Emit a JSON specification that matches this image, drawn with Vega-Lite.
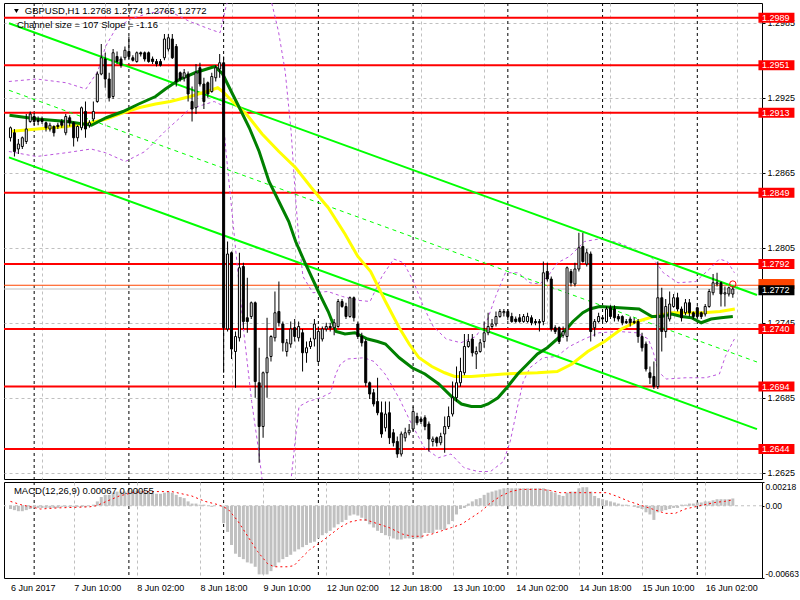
{
"$schema":"https://vega.github.io/schema/vega-lite/v6.json",
"background":"white",
"padding":{"left":2,"top":2,"right":0,"bottom":0},
"spacing":1,
"config":{"font":"Liberation Sans","view":{"stroke":"black","strokeWidth":1},"axis":{"labelFont":"Liberation Sans","labelFontSize":9,"labelColor":"black","domainColor":"black","tickColor":"black"},"text":{"font":"Liberation Sans"}},
"datasets":{
"days":[{"d":6},{"d":30},{"d":54},{"d":78},{"d":102},{"d":126},{"d":150},{"d":174}],
"levels":[{"lv":1.2989},{"lv":1.2951},{"lv":1.2913},{"lv":1.2849},{"lv":1.2792},{"lv":1.2740},{"lv":1.2694},{"lv":1.2644}],
"chan":[{"k":"upper","i":-0.375,"p":1.29846},{"k":"upper","i":189.125,"p":1.27672},{"k":"lower","i":-0.375,"p":1.28773},{"k":"lower","i":189.125,"p":1.26599}],
"mid":[{"i":-0.375,"p":1.2931},{"i":189.125,"p":1.27136}],
"bb":[
{"b":"u","i":-0.4,"p":1.2938},{"b":"u","i":6.6,"p":1.2940},{"b":"u","i":14.1,"p":1.2937},{"b":"u","i":19.1,"p":1.2932},{"b":"u","i":22.1,"p":1.2946},{"b":"u","i":24.1,"p":1.2966},{"b":"u","i":26.6,"p":1.2980},{"b":"u","i":30.4,"p":1.2988},{"b":"u","i":35.4,"p":1.2993},{"b":"u","i":40.4,"p":1.2994},{"b":"u","i":45.4,"p":1.2986},{"b":"u","i":50.4,"p":1.2980},{"b":"u","i":53.1,"p":1.2977},{"b":"u","i":54.6,"p":1.2998},{"b":"u","i":56.6,"p":1.3018},{"b":"u","i":64.6,"p":1.3018},{"b":"u","i":66.1,"p":1.3002},{"b":"u","i":67.9,"p":1.2978},{"b":"u","i":69.6,"p":1.2946},{"b":"u","i":71.1,"p":1.2898},{"b":"u","i":72.1,"p":1.2850},{"b":"u","i":73.1,"p":1.2810},{"b":"u","i":74.1,"p":1.2782},{"b":"u","i":76.6,"p":1.2769},{"b":"u","i":80.4,"p":1.2770},{"b":"u","i":84.1,"p":1.2766},{"b":"u","i":87.9,"p":1.2763},{"b":"u","i":91.1,"p":1.2762},{"b":"u","i":94.1,"p":1.2782},{"b":"u","i":97.1,"p":1.2796},{"b":"u","i":99.6,"p":1.2793},{"b":"u","i":102.1,"p":1.2778},{"b":"u","i":104.6,"p":1.2758},{"b":"u","i":107.1,"p":1.2742},{"b":"u","i":110.4,"p":1.2732},{"b":"u","i":114.1,"p":1.2729},{"b":"u","i":117.9,"p":1.2734},{"b":"u","i":120.9,"p":1.2748},{"b":"u","i":122.9,"p":1.2766},{"b":"u","i":125.4,"p":1.2785},{"b":"u","i":128.6,"p":1.2785},{"b":"u","i":131.6,"p":1.2777},{"b":"u","i":134.1,"p":1.2776},{"b":"u","i":136.1,"p":1.2782},{"b":"u","i":138.6,"p":1.2793},{"b":"u","i":141.6,"p":1.2798},{"b":"u","i":145.4,"p":1.2810},{"b":"u","i":149.1,"p":1.2812},{"b":"u","i":154.1,"p":1.2809},{"b":"u","i":159.1,"p":1.2802},{"b":"u","i":162.1,"p":1.2798},{"b":"u","i":163.6,"p":1.2793},{"b":"u","i":165.4,"p":1.2785},{"b":"u","i":169.1,"p":1.2777},{"b":"u","i":173.6,"p":1.2778},{"b":"u","i":177.1,"p":1.2788},{"b":"u","i":179.6,"p":1.2796},{"b":"u","i":181.6,"p":1.2794},{"b":"u","i":183.4,"p":1.2785},
{"b":"d","i":-0.4,"p":1.2882},{"b":"d","i":6.6,"p":1.2878},{"b":"d","i":14.1,"p":1.2881},{"b":"d","i":20.4,"p":1.2884},{"b":"d","i":24.1,"p":1.2881},{"b":"d","i":29.1,"p":1.2874},{"b":"d","i":34.1,"p":1.2882},{"b":"d","i":39.1,"p":1.2898},{"b":"d","i":45.4,"p":1.2916},{"b":"d","i":51.6,"p":1.2922},{"b":"d","i":53.6,"p":1.2919},{"b":"d","i":54.6,"p":1.2882},{"b":"d","i":56.6,"p":1.2818},{"b":"d","i":59.1,"p":1.2738},{"b":"d","i":61.1,"p":1.2682},{"b":"d","i":62.9,"p":1.2642},{"b":"d","i":64.1,"p":1.2610},{"b":"d","i":70.1,"p":1.2610},{"b":"d","i":71.1,"p":1.2620},{"b":"d","i":72.1,"p":1.2650},{"b":"d","i":73.1,"p":1.2678},{"b":"d","i":75.4,"p":1.2682},{"b":"d","i":78.6,"p":1.2685},{"b":"d","i":81.1,"p":1.2689},{"b":"d","i":82.4,"p":1.2704},{"b":"d","i":83.6,"p":1.2712},{"b":"d","i":85.4,"p":1.2716},{"b":"d","i":89.6,"p":1.2717},{"b":"d","i":92.1,"p":1.2714},{"b":"d","i":94.9,"p":1.2704},{"b":"d","i":98.4,"p":1.2685},{"b":"d","i":101.6,"p":1.2664},{"b":"d","i":104.9,"p":1.2645},{"b":"d","i":108.4,"p":1.2637},{"b":"d","i":111.6,"p":1.2640},{"b":"d","i":114.9,"p":1.2629},{"b":"d","i":118.4,"p":1.2626},{"b":"d","i":121.6,"p":1.2626},{"b":"d","i":124.9,"p":1.2634},{"b":"d","i":126.6,"p":1.2650},{"b":"d","i":128.4,"p":1.2677},{"b":"d","i":129.9,"p":1.2698},{"b":"d","i":131.6,"p":1.2709},{"b":"d","i":134.9,"p":1.2717},{"b":"d","i":138.4,"p":1.2718},{"b":"d","i":141.6,"p":1.2726},{"b":"d","i":145.4,"p":1.2732},{"b":"d","i":149.1,"p":1.2737},{"b":"d","i":154.1,"p":1.2738},{"b":"d","i":158.6,"p":1.2737},{"b":"d","i":161.6,"p":1.2732},{"b":"d","i":162.9,"p":1.2721},{"b":"d","i":164.1,"p":1.2706},{"b":"d","i":166.1,"p":1.2700},{"b":"d","i":171.1,"p":1.2701},{"b":"d","i":176.1,"p":1.2701},{"b":"d","i":179.6,"p":1.2704},{"b":"d","i":181.1,"p":1.2718},{"b":"d","i":183.4,"p":1.2732}
],
"fast":[{"i":-0.25,"p":1.2911},{"i":6.75,"p":1.2908},{"i":14.25,"p":1.2906},{"i":20.5,"p":1.2903},{"i":24.25,"p":1.2909},{"i":28.5,"p":1.2914},{"i":32.5,"p":1.2920},{"i":36.75,"p":1.2926},{"i":39.25,"p":1.2932},{"i":43,"p":1.2940},{"i":46.75,"p":1.2945},{"i":51.75,"p":1.2950},{"i":53.75,"p":1.2944},{"i":56.25,"p":1.2928},{"i":58,"p":1.2917},{"i":60.5,"p":1.2901},{"i":63,"p":1.2882},{"i":65.5,"p":1.2858},{"i":68,"p":1.2842},{"i":70.5,"p":1.2826},{"i":72.25,"p":1.2810},{"i":74.75,"p":1.2792},{"i":78,"p":1.2770},{"i":80.5,"p":1.2754},{"i":82.5,"p":1.2738},{"i":84.75,"p":1.2736},{"i":87.25,"p":1.2737},{"i":90.5,"p":1.2732},{"i":93,"p":1.2730},{"i":95,"p":1.2728},{"i":98.5,"p":1.2717},{"i":101.75,"p":1.2709},{"i":105,"p":1.2704},{"i":108.5,"p":1.2696},{"i":111.75,"p":1.2686},{"i":114.25,"p":1.2680},{"i":116.75,"p":1.2678},{"i":119.25,"p":1.2678},{"i":121,"p":1.2680},{"i":123.5,"p":1.2685},{"i":126,"p":1.2694},{"i":128.5,"p":1.2704},{"i":131,"p":1.2712},{"i":133.5,"p":1.2720},{"i":136,"p":1.2725},{"i":139.25,"p":1.2734},{"i":142.5,"p":1.2746},{"i":145,"p":1.2753},{"i":146.75,"p":1.2756},{"i":149.25,"p":1.2758},{"i":154.25,"p":1.2757},{"i":159.25,"p":1.2756},{"i":162.5,"p":1.2750},{"i":165,"p":1.2750},{"i":167.5,"p":1.2752},{"i":170,"p":1.2750},{"i":172.5,"p":1.2749},{"i":175,"p":1.2745},{"i":177.5,"p":1.2748},{"i":180,"p":1.2749},{"i":183,"p":1.2750}],
"slow":[{"i":-0.25,"p":1.2898},{"i":6.75,"p":1.2900},{"i":14.25,"p":1.2902},{"i":20.5,"p":1.2905},{"i":24.25,"p":1.2908},{"i":28.5,"p":1.2913},{"i":32.5,"p":1.2917},{"i":36.75,"p":1.2920},{"i":40.5,"p":1.2922},{"i":45.5,"p":1.2926},{"i":49.75,"p":1.2930},{"i":52.5,"p":1.2933},{"i":53.75,"p":1.2930},{"i":56.25,"p":1.2922},{"i":59.75,"p":1.2912},{"i":63.75,"p":1.2896},{"i":68,"p":1.2882},{"i":72.25,"p":1.2869},{"i":76.25,"p":1.2853},{"i":80.5,"p":1.2837},{"i":84.75,"p":1.2816},{"i":88,"p":1.2798},{"i":91.25,"p":1.2786},{"i":95,"p":1.2762},{"i":98.5,"p":1.2741},{"i":101,"p":1.2728},{"i":103.5,"p":1.2717},{"i":106.75,"p":1.2710},{"i":110,"p":1.2705},{"i":112.5,"p":1.2702},{"i":116.75,"p":1.2702},{"i":125,"p":1.2704},{"i":133.5,"p":1.2705},{"i":138.5,"p":1.2706},{"i":142.25,"p":1.2712},{"i":146.25,"p":1.2722},{"i":150.5,"p":1.2730},{"i":154.75,"p":1.2740},{"i":158.75,"p":1.2746},{"i":163,"p":1.2750},{"i":167.25,"p":1.2753},{"i":175.5,"p":1.2753},{"i":179.75,"p":1.2754},{"i":183.5,"p":1.2756}],
"sig":[{"i":0,"s":0.0004},{"i":2.6,"s":0.0001},{"i":7.6,"s":-0.0003},{"i":11.8,"s":-0.0002},{"i":20,"s":-0.0001},{"i":21.8,"s":0},{"i":24.3,"s":0.0004},{"i":27.6,"s":0.0009},{"i":30.9,"s":0.0012},{"i":34.3,"s":0.0013},{"i":40.9,"s":0.0013},{"i":43.4,"s":0.0011},{"i":45.9,"s":0.0009},{"i":49.3,"s":0.0004},{"i":52.6,"s":0.0001},{"i":55.1,"s":-0.0003},{"i":57.6,"s":-0.0014},{"i":60.1,"s":-0.0028},{"i":62.6,"s":-0.0042},{"i":65.1,"s":-0.0053},{"i":66.8,"s":-0.0056},{"i":70.1,"s":-0.0056},{"i":71.8,"s":-0.0055},{"i":73.4,"s":-0.0049},{"i":75.9,"s":-0.0040},{"i":78.4,"s":-0.0034},{"i":80.9,"s":-0.0027},{"i":83.4,"s":-0.0020},{"i":85.9,"s":-0.0015},{"i":88.4,"s":-0.0013},{"i":90.1,"s":-0.0013},{"i":92.6,"s":-0.0016},{"i":95.9,"s":-0.0020},{"i":99.3,"s":-0.0026},{"i":101.75,"s":-0.0028},{"i":104.25,"s":-0.0028},{"i":106.75,"s":-0.0026},{"i":109.25,"s":-0.0023},{"i":111.75,"s":-0.0020},{"i":114.25,"s":-0.0017},{"i":116.75,"s":-0.0011},{"i":119.25,"s":-0.0005},{"i":121.75,"s":0.0003},{"i":124.25,"s":0.0009},{"i":126.75,"s":0.0013},{"i":129.25,"s":0.0015},{"i":134.25,"s":0.0015},{"i":136.75,"s":0.0014},{"i":139.25,"s":0.0012},{"i":142.6,"s":0.0012},{"i":151,"s":0.0012},{"i":153.4,"s":0.0009},{"i":156.75,"s":0.0004},{"i":159.25,"s":0.0001},{"i":162.6,"s":-0.0003},{"i":165.9,"s":-0.0007},{"i":168.4,"s":-0.0007},{"i":170.9,"s":-0.0003},{"i":173.4,"s":-0.0001},{"i":175.9,"s":0.0001},{"i":178.4,"s":0.0003},{"i":180.9,"s":0.0004},{"i":183,"s":0.00055}],
"candles":[
{"i":0,"o":1.2893,"h":1.2902,"l":1.2890,"c":1.2901,"m":-0.0003},
{"i":1,"o":1.2897,"h":1.2900,"l":1.2878,"c":1.2882,"m":-0.0004},
{"i":2,"o":1.2884,"h":1.2892,"l":1.2880,"c":1.2888,"m":-0.0005},
{"i":3,"o":1.2886,"h":1.2894,"l":1.2884,"c":1.2893,"m":-0.0005},
{"i":4,"o":1.2890,"h":1.2912,"l":1.2888,"c":1.2900,"m":-0.0004},
{"i":5,"o":1.2906,"h":1.2914,"l":1.2905,"c":1.2912,"m":-0.0003},
{"i":6,"o":1.2910,"h":1.2913,"l":1.2903,"c":1.2906,"m":-0.0002},
{"i":7,"o":1.2907,"h":1.2910,"l":1.2903,"c":1.2906,"m":-0.0002},
{"i":8,"o":1.2908,"h":1.2910,"l":1.2904,"c":1.2906,"m":-0.0002},
{"i":9,"o":1.2905,"h":1.2906,"l":1.2898,"c":1.2901,"m":-0.0002},
{"i":10,"o":1.2900,"h":1.2905,"l":1.2898,"c":1.2903,"m":-0.0002},
{"i":11,"o":1.2902,"h":1.2903,"l":1.2894,"c":1.2897,"m":-0.0002},
{"i":12,"o":1.2903,"h":1.2905,"l":1.2900,"c":1.2902,"m":-0.0002},
{"i":13,"o":1.2906,"h":1.2908,"l":1.2901,"c":1.2903,"m":-0.0001},
{"i":14,"o":1.2897,"h":1.2912,"l":1.2895,"c":1.2910,"m":-0.0001},
{"i":15,"o":1.2909,"h":1.2911,"l":1.2902,"c":1.2905,"m":-0.0001},
{"i":16,"o":1.2905,"h":1.2906,"l":1.2886,"c":1.2893,"m":-0.0001},
{"i":17,"o":1.2893,"h":1.2903,"l":1.2890,"c":1.2902,"m":-0.0001},
{"i":18,"o":1.2901,"h":1.2918,"l":1.2899,"c":1.2917,"m":-0.0001},
{"i":19,"o":1.2914,"h":1.2922,"l":1.2893,"c":1.2900,"m":-0.0001},
{"i":20,"o":1.2903,"h":1.2907,"l":1.2901,"c":1.2905,"m":0},
{"i":21,"o":1.2908,"h":1.2922,"l":1.2906,"c":1.2914,"m":0.0001},
{"i":22,"o":1.2922,"h":1.2946,"l":1.2921,"c":1.2944,"m":0.0004},
{"i":23,"o":1.2944,"h":1.2968,"l":1.2943,"c":1.2957,"m":0.0008},
{"i":24,"o":1.2956,"h":1.2961,"l":1.2933,"c":1.2940,"m":0.0010},
{"i":25,"o":1.2940,"h":1.2945,"l":1.2922,"c":1.2925,"m":0.0010},
{"i":26,"o":1.2926,"h":1.2964,"l":1.2924,"c":1.2961,"m":0.0012},
{"i":27,"o":1.2958,"h":1.2962,"l":1.2952,"c":1.2954,"m":0.0013},
{"i":28,"o":1.2956,"h":1.2958,"l":1.2949,"c":1.2951,"m":0.0013},
{"i":29,"o":1.2957,"h":1.2966,"l":1.2955,"c":1.2963,"m":0.0013},
{"i":30,"o":1.2962,"h":1.2974,"l":1.2956,"c":1.2958,"m":0.0014},
{"i":31,"o":1.2957,"h":1.2959,"l":1.2954,"c":1.2955,"m":0.0014},
{"i":32,"o":1.2954,"h":1.2962,"l":1.2953,"c":1.2961,"m":0.0014},
{"i":33,"o":1.2961,"h":1.2962,"l":1.2958,"c":1.2960,"m":0.0014},
{"i":34,"o":1.2961,"h":1.2962,"l":1.2954,"c":1.2956,"m":0.0013},
{"i":35,"o":1.2961,"h":1.2962,"l":1.2953,"c":1.2954,"m":0.0013},
{"i":36,"o":1.2956,"h":1.2958,"l":1.2952,"c":1.2954,"m":0.0012},
{"i":37,"o":1.2954,"h":1.2956,"l":1.2950,"c":1.2952,"m":0.0011},
{"i":38,"o":1.2954,"h":1.2956,"l":1.2950,"c":1.2951,"m":0.0011},
{"i":39,"o":1.2957,"h":1.2976,"l":1.2955,"c":1.2972,"m":0.0012},
{"i":40,"o":1.2964,"h":1.2976,"l":1.2962,"c":1.2973,"m":0.0013},
{"i":41,"o":1.2972,"h":1.2976,"l":1.2956,"c":1.2957,"m":0.0012},
{"i":42,"o":1.2966,"h":1.2968,"l":1.2934,"c":1.2938,"m":0.0010},
{"i":43,"o":1.2945,"h":1.2946,"l":1.2938,"c":1.2940,"m":0.0008},
{"i":44,"o":1.2941,"h":1.2948,"l":1.2938,"c":1.2945,"m":0.0007},
{"i":45,"o":1.2944,"h":1.2946,"l":1.2922,"c":1.2928,"m":0.0004},
{"i":46,"o":1.2922,"h":1.2934,"l":1.2906,"c":1.2916,"m":0.0002},
{"i":47,"o":1.2917,"h":1.2952,"l":1.2912,"c":1.2945,"m":0.0002},
{"i":48,"o":1.2949,"h":1.2953,"l":1.2934,"c":1.2936,"m":0.0001},
{"i":49,"o":1.2936,"h":1.2941,"l":1.2916,"c":1.2922,"m":0.0001},
{"i":50,"o":1.2937,"h":1.2938,"l":1.2925,"c":1.2928,"m":0},
{"i":51,"o":1.2930,"h":1.2945,"l":1.2929,"c":1.2942,"m":-0.0001},
{"i":52,"o":1.2941,"h":1.2951,"l":1.2938,"c":1.2949,"m":0},
{"i":53,"o":1.2948,"h":1.2960,"l":1.2941,"c":1.2953,"m":0},
{"i":54,"o":1.2953,"h":1.2958,"l":1.2705,"c":1.2741,"m":-0.0016},
{"i":55,"o":1.2740,"h":1.2810,"l":1.2738,"c":1.2800,"m":-0.0024},
{"i":56,"o":1.2801,"h":1.2802,"l":1.2716,"c":1.2724,"m":-0.0036},
{"i":57,"o":1.2722,"h":1.2738,"l":1.2693,"c":1.2734,"m":-0.0044},
{"i":58,"o":1.2733,"h":1.2801,"l":1.2730,"c":1.2789,"m":-0.0047},
{"i":59,"o":1.2790,"h":1.2793,"l":1.2740,"c":1.2746,"m":-0.0049},
{"i":60,"o":1.2749,"h":1.2781,"l":1.2737,"c":1.2746,"m":-0.0052},
{"i":61,"o":1.2750,"h":1.2762,"l":1.2748,"c":1.2761,"m":-0.0053},
{"i":62,"o":1.2761,"h":1.2762,"l":1.2685,"c":1.2698,"m":-0.0056},
{"i":63,"o":1.2697,"h":1.2725,"l":1.2633,"c":1.2662,"m":-0.0063},
{"i":64,"o":1.2662,"h":1.2706,"l":1.2653,"c":1.2705,"m":-0.0063},
{"i":65,"o":1.2705,"h":1.2749,"l":1.2685,"c":1.2717,"m":-0.0063},
{"i":66,"o":1.2718,"h":1.2735,"l":1.2714,"c":1.2734,"m":-0.0060},
{"i":67,"o":1.2733,"h":1.2770,"l":1.2730,"c":1.2753,"m":-0.0056},
{"i":68,"o":1.2754,"h":1.2778,"l":1.2742,"c":1.2745,"m":-0.0052},
{"i":69,"o":1.2744,"h":1.2746,"l":1.2722,"c":1.2729,"m":-0.0049},
{"i":70,"o":1.2722,"h":1.2732,"l":1.2718,"c":1.2729,"m":-0.0047},
{"i":71,"o":1.2728,"h":1.2746,"l":1.2725,"c":1.2740,"m":-0.0045},
{"i":72,"o":1.2741,"h":1.2748,"l":1.2730,"c":1.2734,"m":-0.0042},
{"i":73,"o":1.2733,"h":1.2746,"l":1.2730,"c":1.2742,"m":-0.0040},
{"i":74,"o":1.2737,"h":1.2740,"l":1.2706,"c":1.2721,"m":-0.0038},
{"i":75,"o":1.2721,"h":1.2730,"l":1.2713,"c":1.2725,"m":-0.0036},
{"i":76,"o":1.2726,"h":1.2733,"l":1.2724,"c":1.2730,"m":-0.0034},
{"i":77,"o":1.2732,"h":1.2748,"l":1.2726,"c":1.2744,"m":-0.0033},
{"i":78,"o":1.2714,"h":1.2742,"l":1.2713,"c":1.2738,"m":-0.0030},
{"i":79,"o":1.2732,"h":1.2742,"l":1.2730,"c":1.2740,"m":-0.0027},
{"i":80,"o":1.2740,"h":1.2745,"l":1.2738,"c":1.2742,"m":-0.0025},
{"i":81,"o":1.2742,"h":1.2745,"l":1.2738,"c":1.2741,"m":-0.0023},
{"i":82,"o":1.2741,"h":1.2748,"l":1.2735,"c":1.2745,"m":-0.0020},
{"i":83,"o":1.2742,"h":1.2764,"l":1.2741,"c":1.2762,"m":-0.0017},
{"i":84,"o":1.2762,"h":1.2764,"l":1.2757,"c":1.2758,"m":-0.0015},
{"i":85,"o":1.2758,"h":1.2761,"l":1.2748,"c":1.2750,"m":-0.0013},
{"i":86,"o":1.2750,"h":1.2766,"l":1.2749,"c":1.2765,"m":-0.0009},
{"i":87,"o":1.2765,"h":1.2766,"l":1.2746,"c":1.2749,"m":-0.0008},
{"i":88,"o":1.2744,"h":1.2746,"l":1.2732,"c":1.2734,"m":-0.0009},
{"i":89,"o":1.2734,"h":1.2737,"l":1.2726,"c":1.2729,"m":-0.0011},
{"i":90,"o":1.2730,"h":1.2732,"l":1.2694,"c":1.2697,"m":-0.0014},
{"i":91,"o":1.2697,"h":1.2698,"l":1.2684,"c":1.2688,"m":-0.0017},
{"i":92,"o":1.2689,"h":1.2692,"l":1.2678,"c":1.2680,"m":-0.0020},
{"i":93,"o":1.2682,"h":1.2701,"l":1.2671,"c":1.2673,"m":-0.0023},
{"i":94,"o":1.2673,"h":1.2682,"l":1.2653,"c":1.2656,"m":-0.0025},
{"i":95,"o":1.2661,"h":1.2682,"l":1.2658,"c":1.2672,"m":-0.0027},
{"i":96,"o":1.2673,"h":1.2682,"l":1.2648,"c":1.2653,"m":-0.0028},
{"i":97,"o":1.2657,"h":1.2660,"l":1.2646,"c":1.2649,"m":-0.0030},
{"i":98,"o":1.2650,"h":1.2654,"l":1.2637,"c":1.2640,"m":-0.0031},
{"i":99,"o":1.2640,"h":1.2658,"l":1.2638,"c":1.2656,"m":-0.0031},
{"i":100,"o":1.2653,"h":1.2661,"l":1.2650,"c":1.2657,"m":-0.0030},
{"i":101,"o":1.2657,"h":1.2664,"l":1.2655,"c":1.2659,"m":-0.0030},
{"i":102,"o":1.2660,"h":1.2678,"l":1.2658,"c":1.2674,"m":-0.0030},
{"i":103,"o":1.2670,"h":1.2673,"l":1.2663,"c":1.2665,"m":-0.0030},
{"i":104,"o":1.2668,"h":1.2670,"l":1.2664,"c":1.2666,"m":-0.0030},
{"i":105,"o":1.2669,"h":1.2671,"l":1.2659,"c":1.2662,"m":-0.0025},
{"i":106,"o":1.2664,"h":1.2666,"l":1.2642,"c":1.2652,"m":-0.0025},
{"i":107,"o":1.2650,"h":1.2654,"l":1.2646,"c":1.2652,"m":-0.0025},
{"i":108,"o":1.2653,"h":1.2654,"l":1.2646,"c":1.2649,"m":-0.0022},
{"i":109,"o":1.2649,"h":1.2657,"l":1.2647,"c":1.2654,"m":-0.0022},
{"i":110,"o":1.2656,"h":1.2670,"l":1.2641,"c":1.2662,"m":-0.0022},
{"i":111,"o":1.2662,"h":1.2678,"l":1.2660,"c":1.2670,"m":-0.0017},
{"i":112,"o":1.2672,"h":1.2698,"l":1.2670,"c":1.2685,"m":-0.0014},
{"i":113,"o":1.2685,"h":1.2710,"l":1.2682,"c":1.2697,"m":-0.0008},
{"i":114,"o":1.2697,"h":1.2717,"l":1.2694,"c":1.2706,"m":-0.0003},
{"i":115,"o":1.2705,"h":1.2736,"l":1.2703,"c":1.2726,"m":-0.0002},
{"i":116,"o":1.2726,"h":1.2736,"l":1.2725,"c":1.2730,"m":0.0002},
{"i":117,"o":1.2732,"h":1.2736,"l":1.2718,"c":1.2721,"m":0.0004},
{"i":118,"o":1.2720,"h":1.2726,"l":1.2708,"c":1.2722,"m":0.0006},
{"i":119,"o":1.2722,"h":1.2732,"l":1.2721,"c":1.2729,"m":0.0007},
{"i":120,"o":1.2730,"h":1.2746,"l":1.2725,"c":1.2737,"m":0.0010},
{"i":121,"o":1.2737,"h":1.2753,"l":1.2735,"c":1.2742,"m":0.0012},
{"i":122,"o":1.2742,"h":1.2748,"l":1.2740,"c":1.2744,"m":0.0013},
{"i":123,"o":1.2744,"h":1.2754,"l":1.2742,"c":1.2750,"m":0.0014},
{"i":124,"o":1.2750,"h":1.2756,"l":1.2749,"c":1.2754,"m":0.0015},
{"i":125,"o":1.2753,"h":1.2756,"l":1.2750,"c":1.2754,"m":0.0016},
{"i":126,"o":1.2754,"h":1.2756,"l":1.2747,"c":1.2750,"m":0.0016},
{"i":127,"o":1.2750,"h":1.2753,"l":1.2745,"c":1.2746,"m":0.0016},
{"i":128,"o":1.2748,"h":1.2750,"l":1.2745,"c":1.2746,"m":0.0016},
{"i":129,"o":1.2749,"h":1.2752,"l":1.2745,"c":1.2746,"m":0.0016},
{"i":130,"o":1.2746,"h":1.2752,"l":1.2745,"c":1.2750,"m":0.0016},
{"i":131,"o":1.2746,"h":1.2753,"l":1.2745,"c":1.2750,"m":0.0016},
{"i":132,"o":1.2749,"h":1.2751,"l":1.2743,"c":1.2745,"m":0.0016},
{"i":133,"o":1.2746,"h":1.2748,"l":1.2743,"c":1.2745,"m":0.0016},
{"i":134,"o":1.2746,"h":1.2748,"l":1.2738,"c":1.2745,"m":0.0016},
{"i":135,"o":1.2746,"h":1.2794,"l":1.2743,"c":1.2785,"m":0.0016},
{"i":136,"o":1.2786,"h":1.2793,"l":1.2778,"c":1.2780,"m":0.0015},
{"i":137,"o":1.2780,"h":1.2782,"l":1.2738,"c":1.2740,"m":0.0013},
{"i":138,"o":1.2741,"h":1.2743,"l":1.2736,"c":1.2738,"m":0.0012},
{"i":139,"o":1.2741,"h":1.2742,"l":1.2728,"c":1.2730,"m":0.0010},
{"i":140,"o":1.2735,"h":1.2742,"l":1.2733,"c":1.2738,"m":0.0009},
{"i":141,"o":1.2734,"h":1.2790,"l":1.2730,"c":1.2789,"m":0.0012},
{"i":142,"o":1.2786,"h":1.2788,"l":1.2774,"c":1.2777,"m":0.0013},
{"i":143,"o":1.2776,"h":1.2793,"l":1.2774,"c":1.2788,"m":0.0013},
{"i":144,"o":1.2788,"h":1.2817,"l":1.2786,"c":1.2805,"m":0.0016},
{"i":145,"o":1.2806,"h":1.2817,"l":1.2793,"c":1.2794,"m":0.0017},
{"i":146,"o":1.2792,"h":1.2804,"l":1.2790,"c":1.2801,"m":0.0017},
{"i":147,"o":1.2800,"h":1.2802,"l":1.2730,"c":1.2738,"m":0.0013},
{"i":148,"o":1.2741,"h":1.2748,"l":1.2734,"c":1.2746,"m":0.0009},
{"i":149,"o":1.2746,"h":1.2753,"l":1.2745,"c":1.2750,"m":0.0007},
{"i":150,"o":1.2749,"h":1.2751,"l":1.2745,"c":1.2748,"m":0.0006},
{"i":151,"o":1.2746,"h":1.2758,"l":1.2745,"c":1.2756,"m":0.0005},
{"i":152,"o":1.2757,"h":1.2759,"l":1.2748,"c":1.2750,"m":0.0004},
{"i":153,"o":1.2756,"h":1.2759,"l":1.2746,"c":1.2749,"m":0.0003},
{"i":154,"o":1.2750,"h":1.2752,"l":1.2746,"c":1.2748,"m":0.0002},
{"i":155,"o":1.2750,"h":1.2751,"l":1.2743,"c":1.2745,"m":0.0001},
{"i":156,"o":1.2746,"h":1.2748,"l":1.2744,"c":1.2745,"m":0.0001},
{"i":157,"o":1.2748,"h":1.2750,"l":1.2742,"c":1.2745,"m":0},
{"i":158,"o":1.2746,"h":1.2749,"l":1.2744,"c":1.2745,"m":-0.0001},
{"i":159,"o":1.2746,"h":1.2748,"l":1.2729,"c":1.2734,"m":-0.0002},
{"i":160,"o":1.2734,"h":1.2737,"l":1.2722,"c":1.2725,"m":-0.0003},
{"i":161,"o":1.2728,"h":1.2730,"l":1.2706,"c":1.2708,"m":-0.0006},
{"i":162,"o":1.2705,"h":1.2710,"l":1.2696,"c":1.2701,"m":-0.0008},
{"i":163,"o":1.2702,"h":1.2714,"l":1.2692,"c":1.2694,"m":-0.0013},
{"i":164,"o":1.2694,"h":1.2794,"l":1.2692,"c":1.2765,"m":-0.0006},
{"i":165,"o":1.2765,"h":1.2773,"l":1.2722,"c":1.2738,"m":-0.0005},
{"i":166,"o":1.2738,"h":1.2764,"l":1.2733,"c":1.2758,"m":-0.0004},
{"i":167,"o":1.2748,"h":1.2770,"l":1.2746,"c":1.2760,"m":-0.0003},
{"i":168,"o":1.2758,"h":1.2768,"l":1.2757,"c":1.2765,"m":-0.0002},
{"i":169,"o":1.2765,"h":1.2769,"l":1.2754,"c":1.2756,"m":-0.0002},
{"i":170,"o":1.2756,"h":1.2758,"l":1.2746,"c":1.2749,"m":0.0001},
{"i":171,"o":1.2753,"h":1.2764,"l":1.2751,"c":1.2761,"m":0.0001},
{"i":172,"o":1.2761,"h":1.2764,"l":1.2750,"c":1.2753,"m":0.0002},
{"i":173,"o":1.2753,"h":1.2754,"l":1.2748,"c":1.2750,"m":0.0002},
{"i":174,"o":1.2757,"h":1.2758,"l":1.2748,"c":1.2750,"m":0.0003},
{"i":175,"o":1.2753,"h":1.2754,"l":1.2748,"c":1.2750,"m":0.0003},
{"i":176,"o":1.2752,"h":1.2760,"l":1.2750,"c":1.2758,"m":0.0004},
{"i":177,"o":1.2758,"h":1.2772,"l":1.2757,"c":1.2770,"m":0.0004},
{"i":178,"o":1.2769,"h":1.2784,"l":1.2767,"c":1.2777,"m":0.0005},
{"i":179,"o":1.2776,"h":1.2785,"l":1.2774,"c":1.2777,"m":0.0006},
{"i":180,"o":1.2777,"h":1.2778,"l":1.2758,"c":1.2768,"m":0.0006},
{"i":181,"o":1.2768,"h":1.2774,"l":1.2758,"c":1.2769,"m":0.0006},
{"i":182,"o":1.2768,"h":1.2774,"l":1.2766,"c":1.2773,"m":0.0006},
{"i":183,"o":1.2768,"h":1.2774,"l":1.2765,"c":1.2772,"m":0.00067}
]
},
"vconcat":[
{
"width":758,"height":476,
"layer":[
{"data":{"name":"days"},"mark":{"type":"rule","color":"black","strokeDash":[3,3],"strokeWidth":1},
 "encoding":{"x":{"field":"d","type":"quantitative","title":null,"scale":{"domain":[-0.375,189.125],"nice":false,"zero":false},
 "axis":{"orient":"bottom","values":[8,16,24,32,40,48,56,64,72,80,88,96,104,112,120,128,136,144,152,160,168,176,184],"grid":true,"gridColor":"#c0c0c0","gridDash":[3,3],"gridWidth":1,"labels":false,"ticks":false,"domain":false,"title":null}}}},
{"data":{"name":"levels"},"mark":{"type":"rule","color":"#ff0000","strokeWidth":2},
 "encoding":{"y":{"field":"lv","type":"quantitative","title":null,"scale":{"domain":[1.262,1.30008],"nice":false,"zero":false},
 "axis":{"orient":"right","values":[1.2625,1.2655,1.2685,1.2715,1.2745,1.2775,1.2805,1.2835,1.2865,1.2895,1.2925,1.2955,1.2985],"format":".4f","grid":true,"gridColor":"#c0c0c0","gridDash":[3,3],"gridWidth":1,"tickSize":3,"labelPadding":2,"domain":false,"title":null}}}},
{"data":{"values":[{}]},"mark":{"type":"rule","color":"#c0c0c0","strokeWidth":1},"encoding":{"y":{"datum":1.2772,"type":"quantitative","title":null}}},
{"data":{"values":[{}]},"mark":{"type":"rule","color":"#ff4500","strokeWidth":1},"encoding":{"y":{"datum":1.2775,"type":"quantitative","title":null}}},
{"data":{"name":"bb"},"mark":{"type":"line","color":"#bb55dd","strokeWidth":1,"strokeDash":[3,3],"clip":true},
 "encoding":{"x":{"field":"i","type":"quantitative","title":null},"y":{"field":"p","type":"quantitative","title":null},"detail":{"field":"b"}}},
{"data":{"name":"chan"},"mark":{"type":"line","color":"#00ff00","strokeWidth":2,"clip":true},
 "encoding":{"x":{"field":"i","type":"quantitative","title":null},"y":{"field":"p","type":"quantitative","title":null},"detail":{"field":"k"}}},
{"data":{"name":"mid"},"mark":{"type":"line","color":"#00ff00","strokeWidth":1,"strokeDash":[4,4],"clip":true},
 "encoding":{"x":{"field":"i","type":"quantitative","title":null},"y":{"field":"p","type":"quantitative","title":null}}},
{"data":{"name":"slow"},"mark":{"type":"line","color":"#ffff00","strokeWidth":3,"clip":true},
 "encoding":{"x":{"field":"i","type":"quantitative","title":null},"y":{"field":"p","type":"quantitative","title":null}}},
{"data":{"name":"fast"},"mark":{"type":"line","color":"#008000","strokeWidth":3,"clip":true},
 "encoding":{"x":{"field":"i","type":"quantitative","title":null},"y":{"field":"p","type":"quantitative","title":null}}},
{"data":{"name":"candles"},"mark":{"type":"rule","color":"black","strokeWidth":1},
 "encoding":{"x":{"field":"i","type":"quantitative","title":null},"y":{"field":"l","type":"quantitative","title":null},"y2":{"field":"h"}}},
{"data":{"name":"candles"},"mark":{"type":"bar","width":2,"stroke":"black","strokeWidth":1,"opacity":1},
 "encoding":{"x":{"field":"i","type":"quantitative","title":null},"y":{"field":"o","type":"quantitative","title":null},"y2":{"field":"c"},
 "fill":{"condition":{"test":"datum.c >= datum.o","value":"white"},"value":"black"}}},
{"data":{"values":[{}]},"mark":{"type":"point","shape":"circle","filled":false,"color":"#ff0000","size":40,"strokeWidth":1,"opacity":1},
 "encoding":{"x":{"datum":183,"type":"quantitative","title":null},"y":{"datum":1.2776,"type":"quantitative","title":null}}},
{"data":{"name":"levels"},"mark":{"type":"tick","orient":"horizontal","color":"#ff0000","size":36,"thickness":10,"opacity":1},
 "encoding":{"x":{"datum":194.05,"type":"quantitative","title":null},"y":{"field":"lv","type":"quantitative","title":null}}},
{"data":{"name":"levels"},"mark":{"type":"text","color":"white","align":"left","baseline":"middle","fontSize":9},
 "encoding":{"x":{"datum":190.375,"type":"quantitative","title":null},"y":{"field":"lv","type":"quantitative","title":null},"text":{"field":"lv","type":"quantitative","format":".4f"}}},
{"data":{"values":[{}]},"mark":{"type":"tick","orient":"horizontal","color":"#ff4500","size":36,"thickness":10,"opacity":1},
 "encoding":{"x":{"datum":194.05,"type":"quantitative","title":null},"y":{"datum":1.2776,"type":"quantitative","title":null}}},
{"data":{"values":[{}]},"mark":{"type":"tick","orient":"horizontal","color":"black","size":36,"thickness":10,"opacity":1},
 "encoding":{"x":{"datum":194.05,"type":"quantitative","title":null},"y":{"datum":1.2771,"type":"quantitative","title":null}}},
{"data":{"values":[{}]},"mark":{"type":"text","color":"white","align":"left","baseline":"middle","fontSize":9},
 "encoding":{"x":{"datum":190.375,"type":"quantitative","title":null},"y":{"datum":1.2771,"type":"quantitative","title":null},"text":{"value":"1.2772"}}},
{"data":{"values":[{}]},"mark":{"type":"point","shape":"triangle-down","filled":true,"color":"black","size":22,"opacity":1},
 "encoding":{"x":{"datum":1.5,"type":"quantitative","title":null},"y":{"datum":1.29944,"type":"quantitative","title":null}}},
{"data":{"values":[{}]},"mark":{"type":"text","color":"black","align":"left","baseline":"middle","fontSize":9.5},
 "encoding":{"x":{"datum":3.625,"type":"quantitative","title":null},"y":{"datum":1.29944,"type":"quantitative","title":null},"text":{"value":"GBPUSD,H1  1.2768 1.2774 1.2765 1.2772"}}},
{"data":{"values":[{}]},"mark":{"type":"text","color":"black","align":"left","baseline":"middle","fontSize":9.5},
 "encoding":{"x":{"datum":1.625,"type":"quantitative","title":null},"y":{"datum":1.29832,"type":"quantitative","title":null},"text":{"value":"Channel size = 107 Slope = -1.16"}}}
]
},
{
"width":758,"height":96,
"layer":[
{"data":{"name":"days"},"mark":{"type":"rule","color":"black","strokeDash":[3,3],"strokeWidth":1},
 "encoding":{"x":{"field":"d","type":"quantitative","title":null,"scale":{"domain":[-0.375,189.125],"nice":false,"zero":false},
 "axis":{"orient":"bottom","values":[0,8,16,24,32,40,48,56,64,72,80,88,96,104,112,120,128,136,144,152,160,168,176,184],
 "labelExpr":"datum.value % 16 == 0 ? ['6 Jun 2017','7 Jun 10:00','8 Jun 02:00','8 Jun 18:00','9 Jun 10:00','12 Jun 02:00','12 Jun 18:00','13 Jun 10:00','14 Jun 02:00','14 Jun 18:00','15 Jun 10:00','16 Jun 02:00'][datum.value / 16] : ''",
 "grid":true,"gridColor":"#c0c0c0","gridDash":[3,3],"gridWidth":1,"gridOpacity":{"condition":{"test":"datum.value == 0","value":0},"value":1},
 "ticks":false,"domain":false,"labelAlign":"left","labelBaseline":"top","labelPadding":5,"labelDx":-1,"labelOverlap":false,"labelFlush":false,"labelBound":false,"title":null}}}},
{"data":{"values":[{}]},"mark":{"type":"rule","color":"#c0c0c0","strokeWidth":1,"strokeDash":[3,3]},
 "encoding":{"y":{"datum":0,"type":"quantitative","title":null,"scale":{"domain":[-0.00663,0.00218],"nice":false,"zero":false},
 "axis":{"orient":"right","values":[-0.00663,0,0.00218],"labelExpr":"datum.value > 0 ? '0.00218' : (datum.value < 0 ? '-0.00663' : '0.00')","labelFlush":true,"labelFontSize":8.5,"tickSize":2,"labelPadding":1,"grid":false,"domain":false,"title":null}}}},
{"data":{"name":"candles"},"mark":{"type":"bar","width":3,"color":"#c0c0c0","opacity":1},
 "encoding":{"x":{"field":"i","type":"quantitative","title":null},"y":{"field":"m","type":"quantitative","title":null},"y2":{"datum":0}}},
{"data":{"name":"sig"},"mark":{"type":"line","color":"#ff0000","strokeWidth":1,"strokeDash":[2,3]},
 "encoding":{"x":{"field":"i","type":"quantitative","title":null},"y":{"field":"s","type":"quantitative","title":null}}},
{"data":{"values":[{}]},"mark":{"type":"text","color":"black","align":"left","baseline":"middle","fontSize":9.5},
 "encoding":{"x":{"datum":0.875,"type":"quantitative","title":null},"y":{"datum":0.00133,"type":"quantitative","title":null},"text":{"value":"MACD(12,26,9) 0.00067 0.00055"}}}
]
}
]
}
